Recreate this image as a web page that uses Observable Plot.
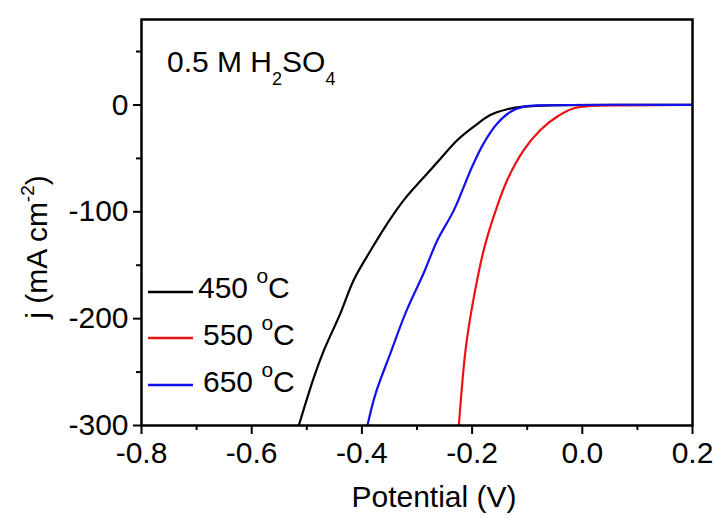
<!DOCTYPE html>
<html>
<head>
<meta charset="utf-8">
<script src="https://cdn.jsdelivr.net/npm/d3@7"></script>
<script src="https://cdn.jsdelivr.net/npm/@observablehq/plot@0.6"></script>
<style>
  html, body { margin: 0; padding: 0; background: #fff; }
  #chart svg { display: block; }
</style>
</head>
<body>
<div id="chart"></div>
<script>
// ---- data ----
const potential450 = [-0.5145, -0.487, -0.469, -0.439, -0.415, -0.384, -0.354, -0.324, -0.276, -0.257, -0.227, -0.197, -0.167, -0.136, -0.106, -0.058, 0.2];
const current450   = [-300, -254.7, -229.7, -195, -164, -136, -111, -89, -61, -50, -33, -20.3, -9.4, -4, -1.6, -0.3, 0];

const potential550 = [-0.224, -0.212, -0.200, -0.179, -0.158, -0.136, -0.106, -0.076, -0.046, -0.015, 0.015, 0.069, 0.2];
const current550   = [-300, -229.7, -189, -136, -100, -70, -42, -23.4, -11, -3.1, -0.9, -0.3, 0];

const potential650 = [-0.390, -0.375, -0.348, -0.321, -0.288, -0.263, -0.233, -0.200, -0.179, -0.154, -0.130, -0.106, -0.067, 0.2];
const current650   = [-300, -270, -232, -195, -157.5, -126.6, -98.4, -57.8, -35.9, -17.2, -6.3, -1.6, -0.3, 0];

const seriesNames  = ["450", "550", "650"];
const seriesColors = ["#000000", "#ee1111", "#1111ee"];

const xMajorTicks = [-0.8, -0.6, -0.4, -0.2, 0.0, 0.2];
const xMinorTicks = [-0.7, -0.5, -0.3, -0.1, 0.1];
const yMajorTicks = [-300, -200, -100, 0];
const yMinorTicks = [-250, -150, -50, 50];

const xLabel = "Potential (V)";
const annotation = ["0.5 M H", "2", "SO", "4"];

// ---- build table ----
const toRows = (xs, ys, name) => xs.map((x, i) => ({potential: x, current: ys[i], series: name}));
const rows = [
  ...toRows(potential450, current450, seriesNames[0]),
  ...toRows(potential550, current550, seriesNames[1]),
  ...toRows(potential650, current650, seriesNames[2])
];

const font = "'Liberation Sans', Arial, sans-serif";
const W = 718, H = 519;
const mL = 141, mR = 26, mT = 19, mB = 94;

const chart = Plot.plot({
  width: W,
  height: H,
  marginLeft: mL,
  marginRight: mR,
  marginTop: mT,
  marginBottom: mB,
  style: {fontFamily: font, background: "#fff", color: "#000"},
  x: {domain: [-0.8, 0.2], axis: null},
  y: {domain: [-300, 80], axis: null},
  color: {domain: seriesNames, range: seriesColors},
  marks: [
    Plot.line(rows, {
      x: "potential", y: "current", z: "series", stroke: "series",
      strokeWidth: 2.2, curve: "catmull-rom", clip: true
    }),
    Plot.axisX(xMajorTicks, {
      label: null, tickSize: 9, tickPadding: 7, strokeWidth: 2, fontSize: 30,
      tickFormat: d => d.toFixed(1)
    }),
    Plot.axisX(xMinorTicks, {label: null, tickSize: 5, strokeWidth: 2, tickFormat: () => ""}),
    Plot.axisY(yMajorTicks, {
      label: null, tickSize: 8, tickPadding: 5, strokeWidth: 2, fontSize: 30,
      tickFormat: d => String(d)
    }),
    Plot.axisY(yMinorTicks, {label: null, tickSize: 5, strokeWidth: 2, tickFormat: () => ""}),
    Plot.frame({stroke: "#000", strokeWidth: 2.5})
  ]
});

document.getElementById("chart").appendChild(chart);

// ---- text decorations & legend ----
const svg = d3.select(chart);

// x axis title
svg.append("text")
  .attr("x", 434).attr("y", 507)
  .attr("text-anchor", "middle")
  .attr("font-family", font).attr("font-size", 30).attr("fill", "#000")
  .text(xLabel);

// y axis title: j (mA cm^-2)
const yl = svg.append("text")
  .attr("transform", `translate(47,247) rotate(-90)`)
  .attr("text-anchor", "middle")
  .attr("font-family", font).attr("font-size", 30).attr("fill", "#000");
yl.append("tspan").text("j (mA cm");
yl.append("tspan").attr("font-size", 19).attr("dy", -13).text("-2");
yl.append("tspan").attr("dy", 13).text(")");

// annotation: 0.5 M H2SO4
const an = svg.append("text")
  .attr("x", 167).attr("y", 72)
  .attr("text-anchor", "start")
  .attr("font-family", font).attr("font-size", 30).attr("fill", "#000");
an.append("tspan").text(annotation[0]);
an.append("tspan").attr("font-size", 18).attr("dy", 13).text(annotation[1]);
an.append("tspan").attr("dy", -13).text(annotation[2]);
an.append("tspan").attr("font-size", 18).attr("dy", 13).text(annotation[3]);

// legend
const legY = [292, 338, 385];
const legTextX = [198, 203, 203];
const legBase = [298, 345, 392];
seriesNames.forEach((name, i) => {
  const g = svg.append("g");
  g.append("line")
    .attr("x1", 148).attr("x2", 193)
    .attr("y1", legY[i]).attr("y2", legY[i])
    .attr("stroke", seriesColors[i]).attr("stroke-width", 2.5);
  const t = g.append("text")
    .attr("x", legTextX[i]).attr("y", legBase[i])
    .attr("text-anchor", "start")
    .attr("font-family", font).attr("font-size", 30).attr("fill", "#000");
  t.append("tspan").text(name + " ");
  t.append("tspan").attr("font-size", 21).attr("dy", -15).text("o");
  t.append("tspan").attr("dy", 15).text("C");
});
</script>
</body>
</html>
